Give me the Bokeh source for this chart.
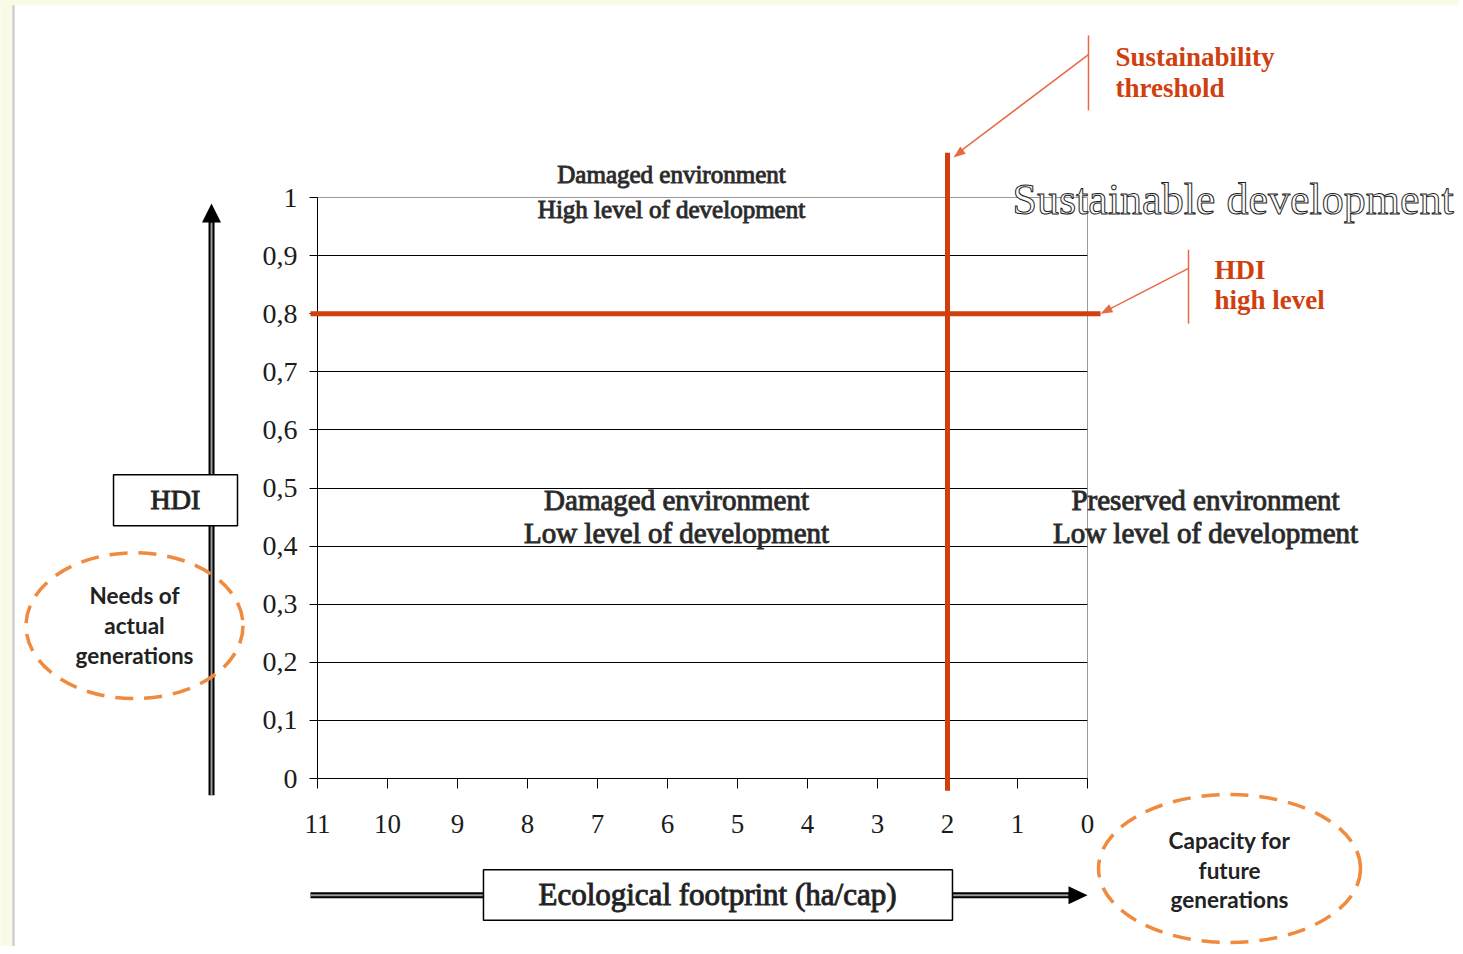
import numpy as np
from bokeh.plotting import figure
from bokeh.models import Range1d, FixedTicker
from bokeh.core.properties import value
from bokeh.embed import file_html
from bokeh.resources import INLINE

# ---- data ----
x_ticks = [11, 10, 9, 8, 7, 6, 5, 4, 3, 2, 1, 0]
y_ticks = [0, 0.1, 0.2, 0.3, 0.4, 0.5, 0.6, 0.7, 0.8, 0.9, 1]
y_tick_labels = ["0", "0,1", "0,2", "0,3", "0,4", "0,5", "0,6", "0,7", "0,8", "0,9", "1"]
grid_levels = [0.1, 0.2, 0.3, 0.4, 0.5, 0.6, 0.7, 0.8, 0.9]
sustainability_threshold = 2      # ha/cap
hdi_high_level = 0.8

SERIF = "Liberation Serif"
SANS = "Lato"
RED = "#d0400f"
SALMON = "#e66a45"
ORANGE = "#ef8a3e"
INK = "#1c1c1c"
OV = "overlay"

FW, FH = 770, 581          # frame size in px
PX_X = FW / 11.0           # px per x unit
PX_Y = FH / 1.0            # px per y unit

p = figure(frame_width=FW, frame_height=FH,
           x_range=Range1d(11, 0), y_range=Range1d(0, 1),
           min_border_left=317, min_border_right=372,
           min_border_top=197, min_border_bottom=168,
           output_backend="svg", toolbar_location=None)
p.background_fill_color = "white"
p.border_fill_color = "white"
p.outline_line_color = "#9a9a9a"
p.outline_line_width = 1

# axes
p.xaxis.ticker = FixedTicker(ticks=x_ticks)
p.yaxis.ticker = FixedTicker(ticks=y_ticks)
p.yaxis.major_label_overrides = {t: l for t, l in zip(y_ticks, y_tick_labels)}
for ax in (p.xaxis, p.yaxis):
    ax.axis_line_color = "black"
    ax.axis_line_width = 1
    ax.major_tick_line_color = "black"
    ax.major_tick_in = 0
    ax.minor_tick_line_color = None
    ax.major_label_text_font = SERIF
    ax.major_label_text_color = INK
p.yaxis.major_tick_out = 8
p.yaxis.major_label_standoff = 12
p.yaxis.major_label_text_font_size = "28px"
p.xaxis.major_tick_out = 10
p.xaxis.major_label_standoff = 26
p.xaxis.major_label_text_font_size = "27px"

p.xgrid.grid_line_color = None
p.ygrid.ticker = FixedTicker(ticks=grid_levels)
p.ygrid.grid_line_color = "black"
p.ygrid.grid_line_width = 1

# page edge decoration (cream strip + grey rule)
p.quad(left=[15.53], right=[15.357], top=[1.34], bottom=[-0.3], fill_color="#fafbe6",
       line_color=None, level=OV)
p.quad(left=[15.53], right=[-6.0], top=[1.34], bottom=[1.331], fill_color="#fafbe6",
       line_color=None, level=OV)
p.segment(x0=[15.343], y0=[1.331], x1=[15.343], y1=[-0.3], line_color="#cfcfcf",
          line_width=2.5, level=OV)


def txt(xs, ys, texts, size, font=SERIF, style="normal", color=INK, align="center",
        baseline="middle", outline=None):
    p.text(x=xs, y=ys, text=texts, text_font=value(font), text_font_size=value(size),
           text_font_style=style, text_color=color, text_align=align,
           text_baseline=baseline, text_outline_color=outline, level=OV)


def head(tip, frm, length, width, color):
    """Filled triangular arrow head (length/width in screen px) pointing from frm to tip."""
    sx = -(tip[0] - frm[0]) * PX_X
    sy = (tip[1] - frm[1]) * PX_Y
    n = np.hypot(sx, sy)
    ux, uy = sx / n, sy / n
    bx, by = -ux * length, -uy * length
    qx, qy = -uy * width / 2, ux * width / 2
    vx = [tip[0], tip[0] - (bx + qx) / PX_X, tip[0] - (bx - qx) / PX_X]
    vy = [tip[1], tip[1] + (by + qy) / PX_Y, tip[1] + (by - qy) / PX_Y]
    if abs(sx) < abs(sy):   # mostly vertical direction -> varea
        order = np.argsort(vx)
        a, b, c = [(vx[i], vy[i]) for i in order]
        y_ac = a[1] + (c[1] - a[1]) * (b[0] - a[0]) / (c[0] - a[0])
        p.varea(x=[a[0], b[0], c[0]], y1=[a[1], y_ac, c[1]], y2=[a[1], b[1], c[1]],
                fill_color=color, level=OV)
    else:                   # mostly horizontal direction -> harea
        order = np.argsort(vy)
        a, b, c = [(vx[i], vy[i]) for i in order]
        x_ac = a[0] + (c[0] - a[0]) * (b[1] - a[1]) / (c[1] - a[1])
        p.harea(y=[a[1], b[1], c[1]], x1=[a[0], x_ac, c[0]], x2=[a[0], b[0], c[0]],
                fill_color=color, level=OV)


# ---- HDI vertical arrow (left) ----
p.segment(x0=[12.514], y0=[-0.029], x1=[12.514], y1=[0.96], line_color="black",
          line_width=6, level=OV)
p.segment(x0=[12.514], y0=[-0.029], x1=[12.514], y1=[0.957], line_color="#9a9a9a",
          line_width=2, level=OV)
head((12.514, 0.9897), (12.514, 0.0), 19, 19, "black")
p.quad(left=[13.914], right=[12.143], top=[0.523], bottom=[0.435], fill_color="white",
       line_color="black", line_width=1.5, level=OV)
txt([13.029], [0.480], ["HDI"], "28px", outline="#2a2a2a")

# ---- Footprint horizontal arrow (bottom) ----
p.segment(x0=[11.1], y0=[-0.201], x1=[0.25], y1=[-0.201], line_color="black",
          line_width=6, level=OV)
p.segment(x0=[11.1], y0=[-0.201], x1=[0.27], y1=[-0.201], line_color="#9a9a9a",
          line_width=2, level=OV)
head((0.0, -0.201), (11.0, -0.201), 19, 18, "black")
p.quad(left=[8.629], right=[1.929], top=[-0.157], bottom=[-0.244], fill_color="white",
       line_color="black", line_width=1.5, level=OV)
txt([5.286], [-0.200], ["Ecological footprint (ha/cap)"], "31px", outline="#2a2a2a")

# ---- dashed ellipses ----
p.ellipse(x=[13.614, -2.029], y=[0.263, -0.155], width=[3.1, 3.743], height=[0.251, 0.2547],
          fill_color=None, line_color=ORANGE, line_width=3.5, line_dash="18 11", level=OV)
txt([13.614] * 3, [0.315, 0.263, 0.212], ["Needs of", "actual", "generations"], "22.5px",
    font=SANS, style="bold", color="#222222")
txt([-2.029] * 3, [-0.107, -0.158, -0.208], ["Capacity for", "future", "generations"], "22.5px",
    font=SANS, style="bold", color="#222222")

# ---- thresholds (red) ----
p.segment(x0=[11.1], y0=[hdi_high_level], x1=[-0.186], y1=[hdi_high_level],
          line_color=RED, line_width=5, level=OV)
p.segment(x0=[sustainability_threshold], y0=[-0.021], x1=[sustainability_threshold], y1=[1.077],
          line_color=RED, line_width=5, level=OV)

# callouts
p.segment(x0=[-0.014, -0.014, -1.443, -1.443], y0=[1.279, 1.246, 0.910, 0.878],
          x1=[-0.014, 1.80, -1.443, -0.30], y1=[1.150, 1.081, 0.783, 0.807],
          line_color=SALMON, line_width=1.5, level=OV)
head((1.914, 1.069), (-0.014, 1.246), 12, 9, SALMON)
head((-0.186, 0.800), (-1.443, 0.878), 12, 9, SALMON)
txt([-0.4, -0.4, -1.814, -1.814], [1.241, 1.189, 0.876, 0.824],
    ["Sustainability", "threshold", "HDI", "high level"], "27px",
    style="bold", color=RED, align="left")

# ---- region texts ----
txt([5.943, 5.943], [1.040, 0.979], ["Damaged environment", "High level of development"],
    "25px", color="#222222", outline="#333333")
txt([5.871, 5.871, -1.686, -1.686], [0.480, 0.422, 0.480, 0.422],
    ["Damaged environment", "Low level of development",
     "Preserved environment", "Low level of development"], "29px", color="#222222",
    outline="#333333")

txt([1.071], [0.996], ["Sustainable development"], "44px", color="#fcfcfc",
    align="left", baseline="middle", outline="#1e1e1e")

open("out.html", "w").write(file_html(p, INLINE))
